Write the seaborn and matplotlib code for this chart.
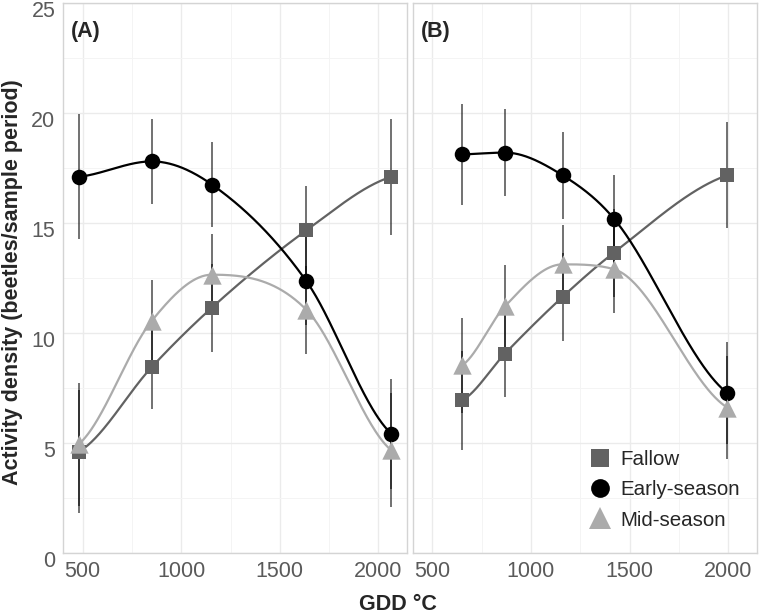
import numpy as np
import pandas as pd
import matplotlib
matplotlib.use('Agg')
import matplotlib.pyplot as plt
import matplotlib.transforms as mtransforms
from matplotlib.lines import Line2D
import seaborn as sns

groups = ['Fallow', 'Early-season', 'Mid-season']

# panel A
gdd_a = [480, 850, 1155, 1635, 2065]
fallow_a = [4.6, 8.45, 11.15, 14.67, 17.1]
fallow_a_se = [2.8, 1.9, 2.0, 2.0, 2.65]
early_a = [17.1, 17.8, 16.75, 12.35, 5.43]
early_a_se = [2.85, 1.95, 1.93, 2.0, 2.5]
mid_a = [4.95, 10.55, 12.65, 11.05, 4.67]
mid_a_se = [2.8, 1.85, 1.85, 2.0, 2.6]

# panel B
gdd_b = [652, 868, 1160, 1420, 1995]
fallow_b = [6.94, 9.06, 11.64, 13.65, 17.17]
fallow_b_se = [2.24, 1.97, 2.0, 2.0, 2.4]
early_b = [18.12, 18.2, 17.17, 15.2, 7.27]
early_b_se = [2.3, 1.97, 1.97, 1.97, 2.3]
mid_b = [8.53, 11.21, 13.12, 12.9, 6.61]
mid_b_se = [2.17, 1.87, 1.78, 2.0, 2.35]

rows = []
for panel, gdd, series in [('A', gdd_a, [(fallow_a, fallow_a_se), (early_a, early_a_se), (mid_a, mid_a_se)]),
                           ('B', gdd_b, [(fallow_b, fallow_b_se), (early_b, early_b_se), (mid_b, mid_b_se)])]:
    for g, (vals, ses) in zip(groups, series):
        for x, v, s in zip(gdd, vals, ses):
            rows.append({'panel': panel, 'group': g, 'gdd': x, 'density': v, 'se': s})
df = pd.DataFrame(rows)

colors = {'Fallow': '#626262', 'Early-season': '#000000', 'Mid-season': '#ababab'}
markers = {'Fallow': 's', 'Early-season': 'o', 'Mid-season': '^'}
sizes = {'Fallow': 115, 'Early-season': 125, 'Mid-season': 175}


def smooth_curve(x, y, n=300):
    # monotone (Fritsch-Carlson) Hermite curve through the means, softened ends
    x = np.asarray(x, float)
    y = np.asarray(y, float)
    k = len(x)
    h = np.diff(x)
    d = np.diff(y) / h
    m = np.zeros(k)
    m[1:-1] = (d[:-1] + d[1:]) / 2
    m[0] = d[0] / 2
    m[-1] = d[-1] / 2
    for i in range(1, k - 1):
        if d[i - 1] * d[i] <= 0:
            m[i] = 0
    for i in range(k - 1):
        if d[i] == 0:
            m[i] = m[i + 1] = 0
            continue
        a, b = m[i] / d[i], m[i + 1] / d[i]
        if a * a + b * b > 9:
            t = 3 / np.sqrt(a * a + b * b)
            m[i], m[i + 1] = t * a * d[i], t * b * d[i]
    xs = np.linspace(x[0], x[-1], n)
    idx = np.clip(np.searchsorted(x, xs) - 1, 0, k - 2)
    hh = h[idx]
    t = (xs - x[idx]) / hh
    h00 = 2 * t ** 3 - 3 * t ** 2 + 1
    h10 = t ** 3 - 2 * t ** 2 + t
    h01 = -2 * t ** 3 + 3 * t ** 2
    h11 = t ** 3 - t ** 2
    ys = h00 * y[idx] + h10 * hh * m[idx] + h01 * y[idx + 1] + h11 * hh * m[idx + 1]
    return xs, ys


sns.set_theme(style='white')
plt.rcParams['font.family'] = ['Liberation Sans', 'DejaVu Sans']

fig = plt.figure(figsize=(7.6, 6.14), dpi=100)
W, H = 760, 614
ax_a = fig.add_axes([63 / W, 1 - 553 / H, (407 - 63) / W, 550 / H])
ax_b = fig.add_axes([412.5 / W, 1 - 553 / H, (757 - 412.5) / W, 550 / H])

for ax, panel in [(ax_a, 'A'), (ax_b, 'B')]:
    sub = df[df.panel == panel]
    ax.set_axisbelow(True)
    ax.set_xlim(400, 2145)
    ax.set_ylim(0, 25)
    ax.set_xticks([500, 1000, 1500, 2000])
    ax.set_xticks([750, 1250, 1750], minor=True)
    ax.set_yticks([0, 5, 10, 15, 20, 25])
    ax.set_yticks([2.5, 7.5, 12.5, 17.5, 22.5], minor=True)
    ax.grid(which='major', color='#ebebeb', lw=1.0)
    ax.grid(which='minor', color='#f4f4f4', lw=0.7)
    for sp in ax.spines.values():
        sp.set_color('#d4d4d4')
        sp.set_linewidth(1.0)
    ax.tick_params(axis='both', which='major', length=2.5, width=0.8, color='#c8c8c8',
                   labelsize=15.5, labelcolor='#5a5a5a', pad=3)
    ax.tick_params(which='minor', length=0)

    ax.vlines(sub.gdd, sub.density - sub.se, sub.density + sub.se, color='black', alpha=0.6, lw=1.3, zorder=2)
    for g in groups:
        gs = sub[sub.group == g]
        xs, ys = smooth_curve(gs.gdd, gs.density)
        ax.plot(xs, ys, color=colors[g], lw=1.6, zorder=3)
    for g in groups:
        gs = sub[sub.group == g]
        sns.scatterplot(data=gs, x='gdd', y='density', marker=markers[g], color=colors[g],
                        s=sizes[g], linewidth=0, ax=ax, zorder=4, legend=False)
    ax.set_xlabel('')
    ax.set_ylabel('')

ax_b.tick_params(axis='y', labelleft=False, length=0)

# y tick labels sit a little below their gridlines in the reference
shift = mtransforms.ScaledTranslation(0, -6 / 100, fig.dpi_scale_trans)
for lab in ax_a.get_yticklabels():
    lab.set_transform(lab.get_transform() + shift)

fig.text(71 / W, 1 - 32 / H, '(A)', fontsize=15.5, fontweight='bold', ha='left', va='center')
fig.text(421 / W, 1 - 32 / H, '(B)', fontsize=15.5, fontweight='bold', ha='left', va='center')
fig.text(398 / W, 1 - 604 / H, 'GDD °C', fontsize=15.5, fontweight='bold', ha='center', va='center')
fig.text(13 / W, 1 - 282 / H, 'Activity density (beetles/sample period)', fontsize=15.5,
         fontweight='bold', rotation=90, ha='center', va='center')

handles = [Line2D([], [], ls='', marker='s', ms=13, color=colors['Fallow'], mew=0),
           Line2D([], [], ls='', marker='o', ms=13.5, color=colors['Early-season'], mew=0),
           Line2D([], [], ls='', marker='^', ms=16, color=colors['Mid-season'], mew=0)]
fig.legend(handles, groups, loc='upper left', bbox_to_anchor=(590 / W, 1 - 450 / H), frameon=False,
           fontsize=14.8, handlelength=1.0, handletextpad=0.5, labelspacing=0.55,
           borderpad=0, borderaxespad=0)

fig.savefig('out.png', dpi=100)
